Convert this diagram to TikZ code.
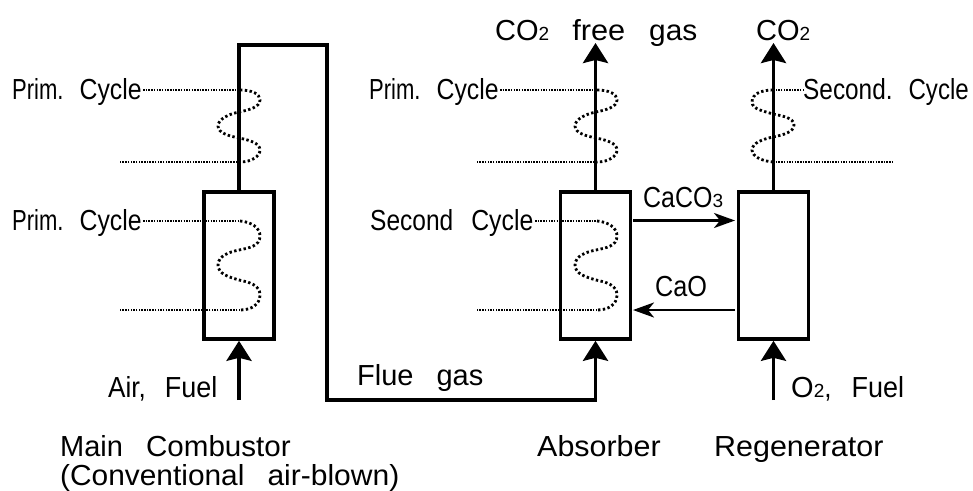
\documentclass[tikz,border=0pt]{standalone}
\usepackage{fontspec}
\setmainfont{Liberation Sans}
\usetikzlibrary{arrows.meta}
\newcommand{\subd}[1]{\raisebox{-0.5pt}{\fontsize{19}{19}\selectfont #1}}
\newcommand{\wsp}[1]{\hspace{#1pt}}
\newcommand{\sx}[2]{\scalebox{#1}[1]{#2}}
\tikzset{
  x=1pt,y=-1pt,
  vessel/.style={draw,line width=3.6pt,minimum width=70pt,minimum height=147pt,inner sep=0pt},
  pipe/.style={line width=3.6pt,line join=miter},
  bigflow/.style={pipe,-{Stealth[length=20pt,width=25pt,inset=3pt]},shorten >=0pt},
  solids/.style={line width=2.6pt,-{Stealth[length=21pt,width=15pt,inset=6pt]}},
  lead/.style={line width=1.5pt,dash pattern=on 1.5pt off 1.2pt},
  coil/.style={line width=2.8pt,dash pattern=on 2.4pt off 2.4pt},
  lab/.style={anchor=base west,inner sep=0pt,font=\fontsize{29}{29}\selectfont},
}
\begin{document}
\begin{tikzpicture}
\useasboundingbox (0,0) rectangle (973,490);
\fill[white] (0,0) rectangle (973,490);
% vessels
\node[vessel] (main) at (239,265.5) {};
\node[vessel] (abs) at (595.5,265.5) {};
\node[vessel] (reg) at (773.5,265.5) {};
% free ends
\coordinate (airin) at (239,400);
\coordinate (o2in) at (773.5,400);
\coordinate (co2free) at (595.5,43);
\coordinate (co2) at (773.5,43);
\coordinate (ca) at (327,45);
\coordinate (cb) at (327,400);
\coordinate (cc) at (595.5,400);
\coordinate (cd) at (239,45);
% pipes
\draw[bigflow] (main.north) -- (cd) -- (ca) -- (cb) -- (cc) -- (abs.south);
\draw[bigflow] (airin) -- (main.south);
\draw[bigflow] (o2in) -- (reg.south);
\draw[bigflow] (abs.north) -- (co2free);
\draw[bigflow] (reg.north) -- (co2);
\coordinate (s1) at (633,220.5);
\coordinate (s2) at (735,220.5);
\coordinate (s3) at (735,310);
\coordinate (s4) at (633,310);
\draw[solids] (s1) -- (s2);
\draw[solids] (s3) -- (s4);
% coils
\draw[lead] (143,90) -- (240,90);
\draw[coil] (240,90) .. controls (252,90) and (260,94) .. (260,100) .. controls (260,107) and (249,110) .. (239,112) .. controls (229,114) and (218,119) .. (218,126) .. controls (218,133) and (229,136) .. (239,138) .. controls (249,140) and (260,143) .. (260,150) .. controls (260,156) and (252,162) .. (240,162);
\draw[lead] (240,162) -- (119,162);
\draw[lead] (143,221) -- (240,221);
\draw[coil] (240,221) .. controls (252,222) and (260,228) .. (260,236) .. controls (260,246) and (249,248) .. (239,250) .. controls (229,252) and (218,256) .. (218,265) .. controls (218,274) and (229,277) .. (239,280) .. controls (249,282) and (260,285) .. (260,295) .. controls (260,304) and (252,310) .. (240,310);
\draw[lead] (240,310) -- (119,310);
\draw[lead] (500,90) -- (597,90);
\draw[coil] (597,90) .. controls (609,90) and (617,94) .. (617,100) .. controls (617,107) and (606,110) .. (596,112) .. controls (586,114) and (575,119) .. (575,126) .. controls (575,133) and (586,136) .. (596,138) .. controls (606,140) and (617,143) .. (617,150) .. controls (617,156) and (609,162) .. (597,162);
\draw[lead] (597,162) -- (476,162);
\draw[lead] (535,221) -- (597,221);
\draw[coil] (597,221) .. controls (609,222) and (617,228) .. (617,236) .. controls (617,246) and (606,248) .. (596,250) .. controls (586,252) and (575,256) .. (575,265) .. controls (575,274) and (586,277) .. (596,280) .. controls (606,282) and (617,285) .. (617,295) .. controls (617,304) and (609,310) .. (597,310);
\draw[lead] (597,310) -- (476,310);
\draw[lead] (804,90) -- (773,90);
\draw[coil] (773,90) .. controls (761,90) and (752,94) .. (752,102) .. controls (752,109) and (763,111) .. (773,114) .. controls (783,116) and (794,118) .. (794,125) .. controls (794,132) and (783,135) .. (773,137) .. controls (763,139) and (752,143) .. (752,150) .. controls (752,156) and (761,161) .. (773,162);
\draw[lead] (773,162) -- (892,162);
% labels
\node[lab] (t1) at (12,99) {\sx{0.76}{Prim.}\wsp{16}\sx{0.855}{Cycle}};
\node[lab] (t2) at (12,230) {\sx{0.76}{Prim.}\wsp{16}\sx{0.855}{Cycle}};
\node[lab] (t3) at (369,99) {\sx{0.76}{Prim.}\wsp{16}\sx{0.855}{Cycle}};
\node[lab] (t4) at (370,230) {\sx{0.845}{Second}\wsp{18}\sx{0.855}{Cycle}};
\node[lab] (t5) at (803,99) {\sx{0.84}{Second.}\wsp{16}\sx{0.83}{Cycle}};
\node[lab] (t6) at (495,40) {CO\subd{2}\wsp{23}\sx{1.06}{free}\wsp{24}\sx{1.03}{gas}};
\node[lab] (t7) at (756,40) {CO\subd{2}};
\node[lab] (t8) at (643,207) {\sx{0.86}{CaCO}\subd{3}};
\node[lab] (t9) at (655,296) {\sx{0.87}{CaO}};
\node[lab] (t10) at (108,397) {\sx{0.9}{Air,}\wsp{19}\sx{0.93}{Fuel}};
\node[lab] (t11) at (357,385) {Flue\wsp{23}gas};
\node[lab] (t12) at (791,397) {O\subd{2}\sx{0.9}{,}\wsp{20}\sx{0.93}{Fuel}};
\node[lab] (t13) at (60,456) {Main\wsp{23}\sx{1.02}{Combustor}};
\node[lab] (t14) at (60,485) {\sx{1.03}{(Conventional}\wsp{23}\sx{1.035}{air-blown)}};
\node[lab] (t15) at (537,456) {\sx{1.05}{Absorber}};
\node[lab] (t16) at (714,456) {\sx{1.05}{Regenerator}};
\end{tikzpicture}
\end{document}
